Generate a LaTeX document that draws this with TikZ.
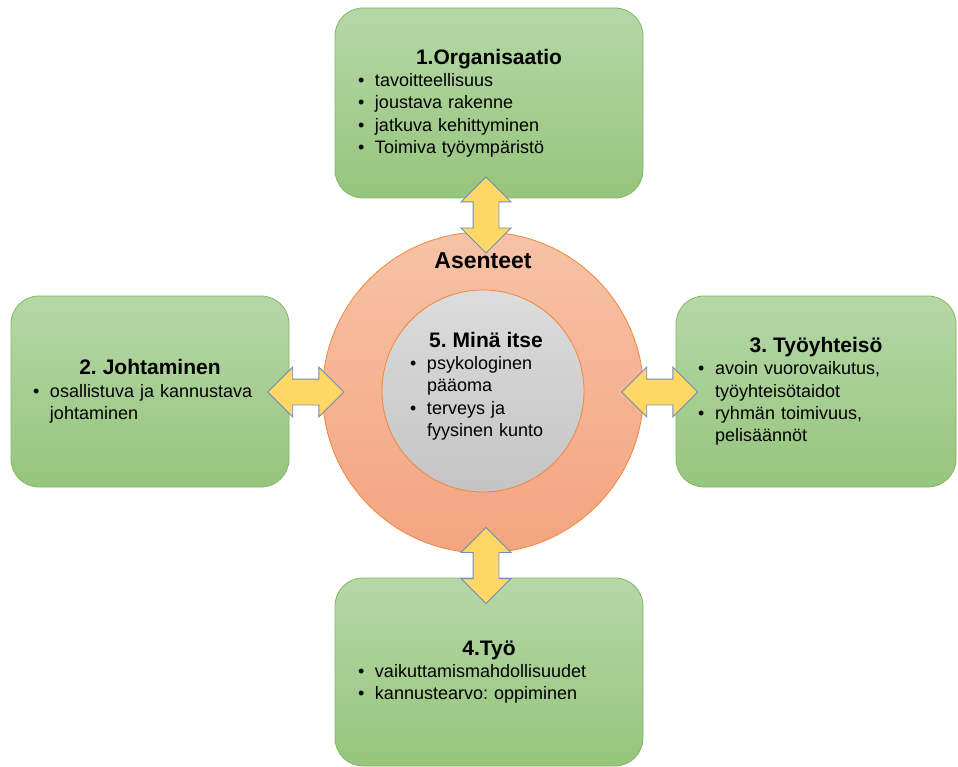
\documentclass[tikz,border=0pt]{standalone}
\usepackage{fontspec}
\setmainfont{Liberation Sans}
\usetikzlibrary{shapes.arrows,calc}
\frenchspacing

\definecolor{boxtop}{RGB}{182,215,168}
\definecolor{boxbot}{RGB}{150,197,124}
\definecolor{boxline}{RGB}{130,183,96}
\definecolor{ringtop}{RGB}{247,194,166}
\definecolor{ringbot}{RGB}{244,164,128}
\definecolor{ringline}{RGB}{240,135,60}
\definecolor{coretop}{RGB}{220,220,220}
\definecolor{corebot}{RGB}{196,196,196}
\definecolor{arrowfill}{RGB}{255,215,100}
\definecolor{arrowline}{RGB}{110,142,178}

\newcommand{\bodyfont}{\fontsize{18}{22.3}\selectfont}
\newcommand{\heading}[1]{{\centering\fontsize{21}{25}\selectfont\bfseries #1\par}}
\newcommand{\bitem}[1]{\noindent\makebox[17pt][l]{\textbullet}#1\par}
\newcommand{\bcont}[1]{\noindent\hspace*{17pt}#1\par}

\tikzset{
  card/.style={rectangle, rounded corners=28pt, draw=boxline, line width=0.8pt,
    top color=boxtop, bottom color=boxbot, inner sep=0pt, align=left,
    font=\bodyfont},
  twoway/.style={double arrow, draw=arrowline, fill=arrowfill, line width=0.8pt,
    inner sep=0pt, inner ysep=12.5pt, minimum height=76pt,
    double arrow head extend=12pt, double arrow tip angle=90}
}

\begin{document}
\begin{tikzpicture}[x=1pt, y=-1pt]
  \useasboundingbox (0,0) rectangle (958,767);

  % the four boxes
  \node[card, minimum width=308, minimum height=190, text width=262pt] (org) at (489,103) {%
    \heading{1.Organisaatio}
    \bitem{tavoitteellisuus}
    \bitem{joustava rakenne}
    \bitem{jatkuva kehittyminen}
    \bitem{Toimiva työympäristö}};
  \node[card, minimum width=278, minimum height=191, text width=234pt] (lead) at (150,391.5) {%
    \heading{2. Johtaminen}
    \bitem{osallistuva ja kannustava}
    \bcont{johtaminen}};
  \node[card, minimum width=280, minimum height=191, text width=236pt] (team) at (816,391.5) {%
    \heading{3. Työyhteisö}
    \bitem{avoin vuorovaikutus,}
    \bcont{työyhteisötaidot}
    \bitem{ryhmän toimivuus,}
    \bcont{pelisäännöt}};
  \node[card, minimum width=308, minimum height=188, text width=262pt] (work) at (489,672) {%
    \heading{4.Työ}
    \bitem{vaikuttamismahdollisuudet}
    \bitem{kannustearvo: oppiminen}};

  % circles
  \node[circle, draw=ringline, line width=0.8pt, top color=ringtop, bottom color=ringbot,
    minimum size=321, inner sep=0pt] (ring) at (483,392.5) {};
  \node[font=\fontsize{23}{27}\selectfont\bfseries] (att) at (483,261) {Asenteet};
  \node[circle, draw=ringline, line width=0.8pt, top color=coretop, bottom color=corebot,
    minimum size=202, inner sep=0pt] (core) at (483,391) {};
  \node[inner sep=0pt, align=left, text width=152pt, font=\bodyfont] (coretext) at (486,386) {%
    \heading{5. Minä itse}
    \bitem{psykologinen}
    \bcont{pääoma}
    \bitem{terveys ja}
    \bcont{fyysinen kunto}};

  % arrows
  \node[twoway, rotate=90] (a1) at ($(org.south)!0.5!(ring.north)$) {};
  \node[twoway] (a2) at ($(lead.east)!0.5!(ring.west)$) {};
  \node[twoway] (a3) at ($(ring.east)!0.5!(team.west)$) {};
  \node[twoway, rotate=90] (a4) at ($(ring.south)!0.5!(work.north)$) {};
\end{tikzpicture}
\end{document}
